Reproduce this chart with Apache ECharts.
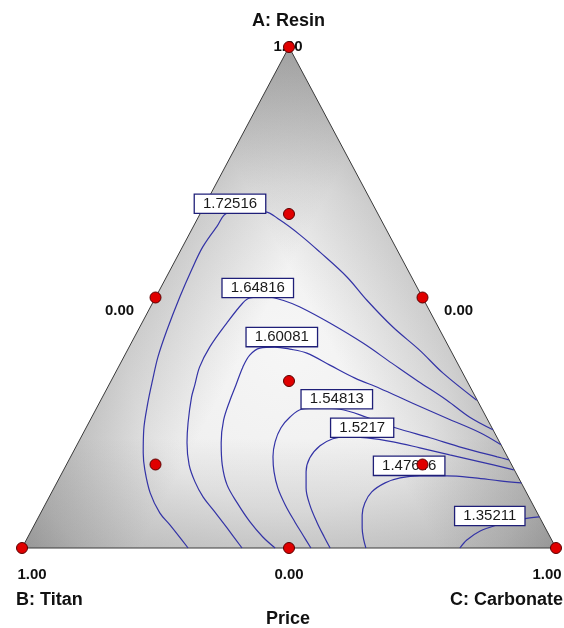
<!DOCTYPE html>
<html lang="en">
<head>
<meta charset="UTF-8">
<title>Price</title>
<script src="https://cdn.jsdelivr.net/npm/echarts@6.0.0/dist/echarts.min.js"></script>
<style>
    * { margin: 0; padding: 0; }
    body { background: #fff; }
    #chart { width: 564px; height: 628px; }
</style>
</head>
<body>
<div id="chart"></div>
<script>
// every point is a mixture given as [Resin (A), Carbonate (C)]; Titan (B) = 1 - A - C
const triangle = [[1, 0], [0, 0], [0, 1]];

const designPoints = [
    [1, 0], [0, 0], [0, 1],
    [0.5, 0], [0.5, 0.5], [0, 0.5],
    [1 / 3, 1 / 3],
    [2 / 3, 1 / 6], [1 / 6, 1 / 6], [1 / 6, 2 / 3]
];

const contourLevels = ['1.72516', '1.64816', '1.60081', '1.54813', '1.5217', '1.47646', '1.35211'];

const contour172516 = [[0.295,0.704],[0.349,0.614],[0.395,0.547],[0.441,0.474],[0.495,0.398],[0.541,0.338],[0.591,0.262],[0.625,0.208],[0.655,0.155],[0.671,0.119],[0.669,0.051],[0.641,0.044],[0.601,0.038],[0.555,0.040],[0.501,0.045],[0.435,0.054],[0.381,0.064],[0.335,0.077],[0.289,0.091],[0.236,0.110],[0.190,0.132],[0.156,0.152],[0.110,0.185],[0.070,0.223],[0.046,0.254],[0,0.311]];
const contour164816 = [[0.236,0.764],[0.261,0.708],[0.295,0.648],[0.333,0.575],[0.369,0.508],[0.409,0.434],[0.449,0.352],[0.481,0.280],[0.493,0.246],[0.501,0.210],[0.499,0.177],[0.489,0.169],[0.449,0.159],[0.401,0.151],[0.361,0.152],[0.325,0.161],[0.301,0.167],[0.250,0.186],[0.210,0.204],[0.166,0.230],[0.132,0.258],[0.102,0.288],[0.076,0.320],[0.040,0.364],[0,0.412]];
const contour160081 = [[0.206,0.794],[0.230,0.743],[0.259,0.666],[0.289,0.587],[0.319,0.510],[0.339,0.454],[0.365,0.394],[0.389,0.339],[0.397,0.303],[0.401,0.273],[0.399,0.246],[0.385,0.234],[0.361,0.233],[0.325,0.238],[0.295,0.242],[0.255,0.250],[0.210,0.268],[0.166,0.292],[0.126,0.321],[0.090,0.358],[0.052,0.401],[0.022,0.440],[0,0.474]];
const contour154813 = [[0.176,0.824],[0.182,0.799],[0.200,0.726],[0.220,0.654],[0.240,0.579],[0.261,0.515],[0.277,0.457],[0.279,0.418],[0.277,0.385],[0.261,0.371],[0.240,0.365],[0.212,0.368],[0.182,0.379],[0.152,0.396],[0.120,0.419],[0.086,0.450],[0.052,0.485],[0.026,0.513],[0,0.541]];
const contour15217 = [[0.156,0.843],[0.172,0.772],[0.186,0.708],[0.200,0.645],[0.212,0.589],[0.220,0.536],[0.222,0.494],[0.218,0.473],[0.204,0.456],[0.180,0.449],[0.152,0.456],[0.120,0.472],[0.086,0.496],[0.052,0.526],[0.022,0.555],[0,0.577]];
const contour147646 = [[0.130,0.870],[0.134,0.828],[0.140,0.778],[0.144,0.724],[0.144,0.673],[0.140,0.638],[0.130,0.615],[0.112,0.599],[0.090,0.597],[0.066,0.604],[0.040,0.617],[0.016,0.632],[0,0.644]];
const contour135211 = [[0.062,0.938],[0.060,0.921],[0.052,0.888],[0.046,0.867],[0.034,0.841],[0.016,0.825],[0,0.820]];

// where each level's value box sits on its line
const contourLabelPos = [[0.687,0.046],[0.519,0.182],[0.421,0.276],[0.297,0.441],[0.240,0.517],[0.164,0.643],[0.064,0.844]];

const tickLabels = ['1.00', '0.00', '0.00', '1.00', '0.00', '1.00'];
const tickPos = [[1, 0], [0.5, 0], [0.5, 0.5], [0, 0], [0, 0.5], [0, 1]];
const tickOffsets = [[-1, 0], [-36, 13], [36, 13], [10, 27], [0, 27], [-9, 27]];

const contours = [contour172516, contour164816, contour160081, contour154813,
    contour15217, contour147646, contour135211];

const FONT = 'Arial, "Liberation Sans", sans-serif';

// ternary -> plane: B at (0,0), C at (1,0), A at (0.5,1)
function toXY(p) {
    return [p[1] + p[0] / 2, p[0]];
}

const chart = echarts.init(document.getElementById('chart'));

function renderTriangle(params, api) {
    const pts = triangle.map(function (v) { return api.coord(toXY(v)); });
    const children = [{
        type: 'polygon',
        shape: { points: pts },
        style: {
            fill: new echarts.graphic.RadialGradient(0.5, 0.6, 0.72, [
                { offset: 0, color: '#f6f6f6' },
                { offset: 0.45, color: '#efefef' },
                { offset: 0.8, color: '#d6d6d6' },
                { offset: 1, color: '#b8b8b8' }
            ])
        }
    }];
    // darken a band along each edge
    for (let i = 0; i < 3; i++) {
        const p = pts[i], q = pts[(i + 1) % 3], o = pts[(i + 2) % 3];
        const m = [(p[0] + q[0]) / 2, (p[1] + q[1]) / 2];
        let n = [-(q[1] - p[1]), q[0] - p[0]];
        const len = Math.hypot(n[0], n[1]);
        n = [n[0] / len, n[1] / len];
        let d = (o[0] - m[0]) * n[0] + (o[1] - m[1]) * n[1];
        if (d < 0) { n = [-n[0], -n[1]]; d = -d; }
        const e = [m[0] + n[0] * d * 0.22, m[1] + n[1] * d * 0.22];
        children.push({
            type: 'polygon',
            shape: { points: pts },
            style: {
                fill: new echarts.graphic.LinearGradient(m[0], m[1], e[0], e[1], [
                    { offset: 0, color: 'rgba(80,80,80,0.22)' },
                    { offset: 1, color: 'rgba(80,80,80,0)' }
                ], true)
            }
        });
    }
    children.push({
        type: 'polygon',
        shape: { points: pts },
        style: { fill: 'none', stroke: '#3a3a3a', lineWidth: 1 }
    });
    return { type: 'group', children: children };
}

const series = [{
    type: 'custom',
    silent: true,
    z: 1,
    data: [0],
    renderItem: renderTriangle
}];

contours.forEach(function (c, i) {
    series.push({
        name: contourLevels[i],
        type: 'line',
        z: 3,
        silent: true,
        smooth: 0.35,
        showSymbol: false,
        clip: false,
        lineStyle: { color: '#3333a6', width: 1.2 },
        data: c.map(toXY)
    });
});

series.push({
    type: 'scatter',
    z: 4,
    silent: true,
    symbolSize: 1,
    itemStyle: { color: 'transparent', opacity: 1 },
    data: contourLabelPos.map(function (p, i) {
        return { name: contourLevels[i], value: toXY(p) };
    }),
    label: {
        show: true,
        position: 'inside',
        formatter: '{b}',
        fontFamily: FONT,
        fontSize: 15,
        color: '#1a1a1a',
        opacity: 1,
        textBorderWidth: 0,
        backgroundColor: '#ffffff',
        borderColor: '#1f1f78',
        borderWidth: 1.3,
        padding: [1, 8, 0, 8],
        lineHeight: 17
    }
});

series.push({
    type: 'scatter',
    z: 2,
    silent: true,
    symbolSize: 1,
    itemStyle: { color: 'transparent', opacity: 1 },
    data: tickPos.map(function (p, i) {
        return {
            name: tickLabels[i],
            value: toXY(p),
            label: { offset: tickOffsets[i] }
        };
    }),
    label: {
        show: true,
        position: 'inside',
        formatter: '{b}',
        fontFamily: FONT,
        fontSize: 15,
        fontWeight: 'bold',
        color: '#111',
        opacity: 1,
        textBorderWidth: 0
    }
});

series.push({
    type: 'scatter',
    z: 5,
    silent: true,
    symbolSize: 11,
    itemStyle: { color: '#e00000', borderColor: '#5a0000', borderWidth: 1, opacity: 1 },
    data: designPoints.map(toXY)
});

const titleStyle = { fontFamily: FONT, fontSize: 18, fontWeight: 'bold', color: '#111' };

chart.setOption({
    animation: false,
    title: [
        { text: 'A: Resin', left: 252, top: 12, padding: 0, textStyle: titleStyle },
        { text: 'B: Titan', left: 16, top: 591, padding: 0, textStyle: titleStyle },
        { text: 'C: Carbonate', right: 1, top: 591, padding: 0, textStyle: titleStyle },
        { text: 'Price', left: 266, top: 610, padding: 0, textStyle: titleStyle }
    ],
    grid: { left: 22, right: 8, top: 47, bottom: 80 },
    xAxis: { type: 'value', min: 0, max: 1, show: false },
    yAxis: { type: 'value', min: 0, max: 1, show: false },
    series: series
});
</script>
</body>
</html>
